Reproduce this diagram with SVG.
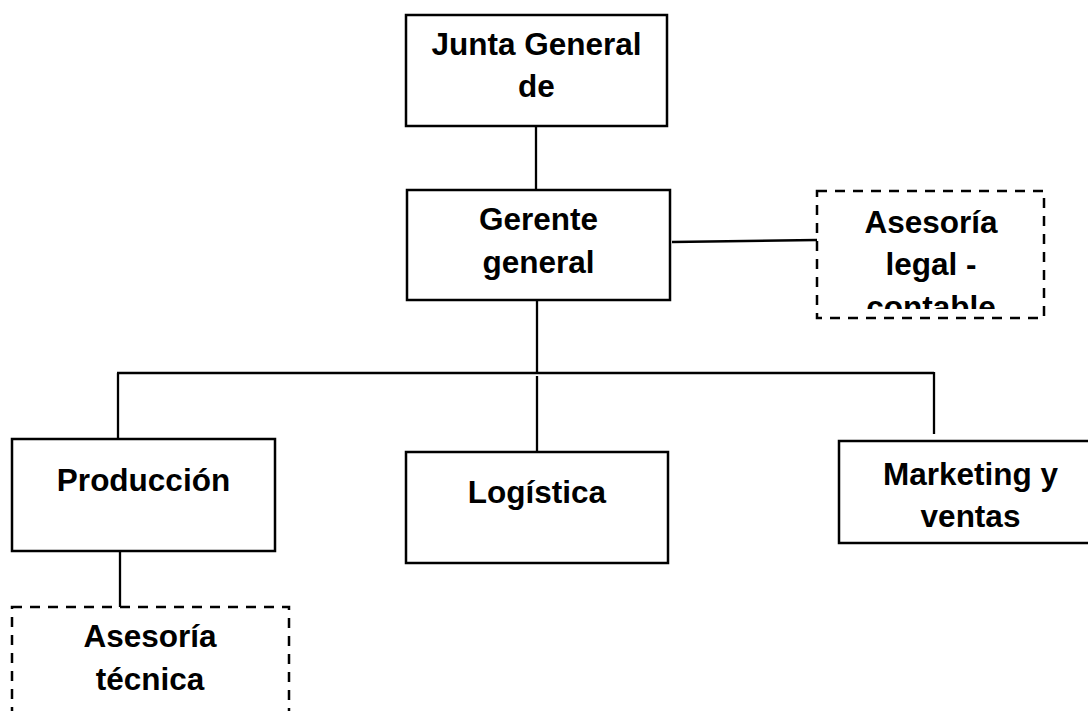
<svg xmlns="http://www.w3.org/2000/svg" width="1088" height="711" viewBox="0 0 1088 711">
  <style>
    .box { fill: #ffffff; stroke: #000000; stroke-width: 2.5; }
    .dashed { fill: #ffffff; stroke: #000000; stroke-width: 2.5; stroke-dasharray: 10 8; }
    .link { fill: none; stroke: #000000; stroke-width: 2.3; }
    .label { font-family: "Liberation Sans", Arial, sans-serif; font-weight: bold; font-size: 31.5px; fill: #000000; text-anchor: middle; }
  </style>
  <defs>
    <clipPath id="clip-legal">
      <rect x="818" y="192" width="226" height="117"/>
    </clipPath>
  </defs>
  <rect width="1088" height="711" fill="#ffffff"/>

  <!-- connectors -->
  <g id="connectors">
    <line class="link" x1="536" y1="126" x2="536" y2="190"/>
    <line class="link" x1="537" y1="300" x2="537" y2="374"/>
    <line class="link" x1="672" y1="242" x2="817" y2="240"/>
    <line class="link" x1="117" y1="373" x2="934" y2="373"/>
    <line class="link" x1="118" y1="373" x2="118" y2="439"/>
    <line class="link" x1="537" y1="376" x2="537" y2="452"/>
    <line class="link" x1="934" y1="372" x2="934" y2="434"/>
    <line class="link" x1="120" y1="551" x2="120" y2="607"/>
  </g>

  <g id="junta">
    <rect class="box" x="406" y="15" width="261" height="111"/>
    <text class="label" x="536.5" y="55">Junta General</text>
    <text class="label" x="536.5" y="97">de</text>
  </g>

  <g id="gerente">
    <rect class="box" x="407" y="190" width="263" height="110"/>
    <text class="label" x="538.5" y="230">Gerente</text>
    <text class="label" x="538.5" y="273">general</text>
  </g>

  <g id="asesoria-legal">
    <rect class="dashed" x="817" y="191" width="227" height="127"/>
    <g clip-path="url(#clip-legal)">
      <text class="label" x="931" y="233">Asesoría</text>
      <text class="label" x="931" y="275">legal -</text>
      <text class="label" x="931" y="318">contable</text>
    </g>
  </g>

  <g id="produccion">
    <rect class="box" x="12" y="439" width="263" height="112"/>
    <text class="label" x="143.5" y="491">Producción</text>
  </g>

  <g id="logistica">
    <rect class="box" x="406" y="452" width="262" height="111"/>
    <text class="label" x="537" y="503">Logística</text>
  </g>

  <g id="marketing">
    <rect class="box" x="839" y="441" width="263" height="102"/>
    <text class="label" x="970.5" y="485">Marketing y</text>
    <text class="label" x="970.5" y="527">ventas</text>
  </g>

  <g id="asesoria-tecnica">
    <rect class="dashed" x="12" y="607" width="277" height="120"/>
    <text class="label" x="150" y="647">Asesoría</text>
    <text class="label" x="150" y="690">técnica</text>
  </g>
</svg>
